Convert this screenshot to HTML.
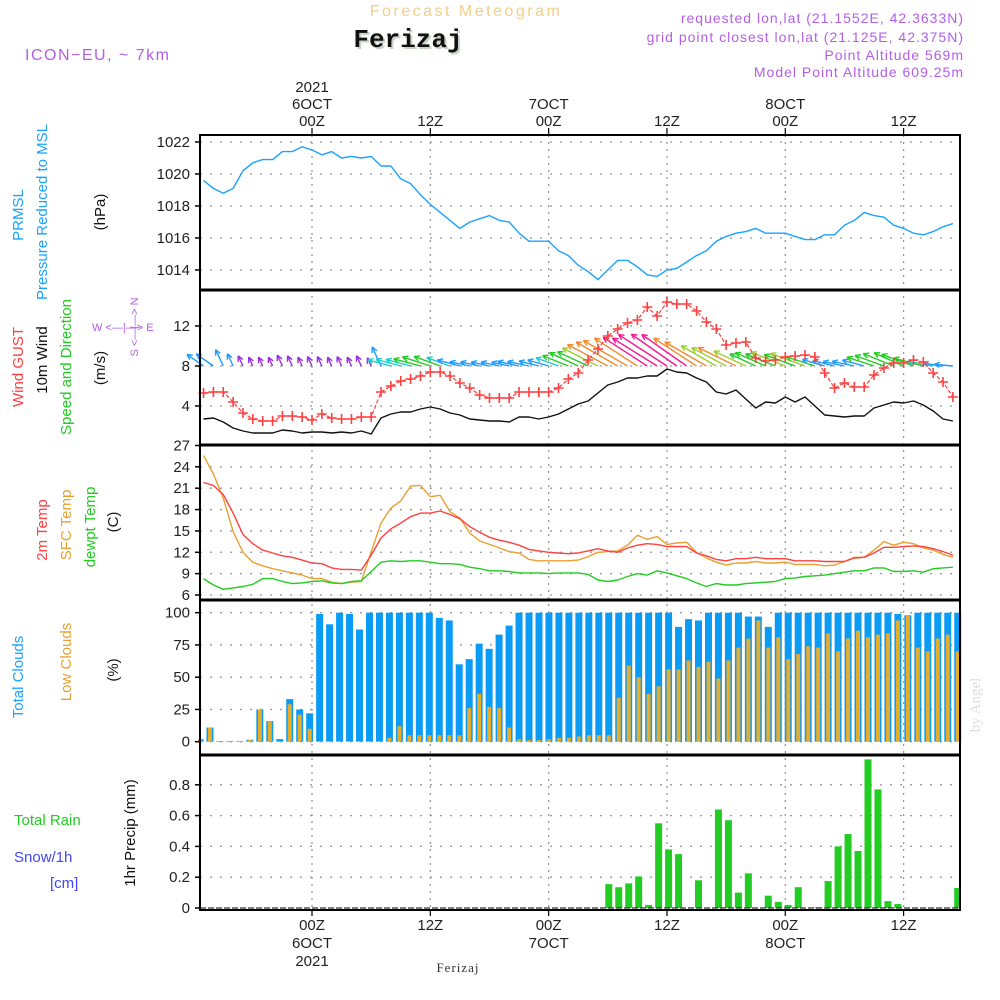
<!DOCTYPE html>
<html><head><meta charset="utf-8"><title>Forecast Meteogram Ferizaj</title>
<style>
html,body{margin:0;padding:0;background:#fff;}
svg{display:block;font-family:"Liberation Sans",sans-serif;}
</style></head>
<body>
<svg id="chart" width="1000" height="1000" viewBox="0 0 1000 1000" xmlns="http://www.w3.org/2000/svg">
<rect x="0" y="0" width="1000" height="1000" fill="#fff"/>
<text x="466" y="16" text-anchor="middle" font-size="16" fill="#f3cf8a" letter-spacing="2.5">Forecast Meteogram</text>
<text x="410" y="49" text-anchor="middle" font-size="26" font-weight="bold" font-family="Liberation Mono, monospace" fill="#c8d4c8">Ferizaj</text>
<text x="408" y="47" text-anchor="middle" font-size="26" font-weight="bold" font-family="Liberation Mono, monospace" fill="#111">Ferizaj</text>
<text x="25" y="60" font-size="16" fill="#b45ee8" letter-spacing="1.5">ICON−EU, ~ 7km</text>
<g font-size="14" fill="#b45ee8" text-anchor="end" letter-spacing="1">
<text x="964" y="23">requested lon,lat (21.1552E, 42.3633N)</text>
<text x="964" y="42">grid point closest lon,lat (21.125E, 42.375N)</text>
<text x="964" y="60">Point Altitude 569m</text>
<text x="964" y="77">Model Point Altitude 609.25m</text>
</g>
<g id="grid"></g>
<g id="marks"></g>
<g id="frames"></g>
<g id="labels" font-size="15" fill="#222"></g>
<text x="458" y="972" text-anchor="middle" font-size="13" font-family="Liberation Serif, serif" fill="#333" letter-spacing="1">Ferizaj</text>
<text transform="translate(980,705) rotate(-90)" text-anchor="middle" font-size="15" font-family="Liberation Serif, serif" fill="#ddd">by Angel</text>
</svg>
<script>
// ---- data ----
const timeTicks = [0, 12, 24, 36, 48, 60];
const timeTickLabels = ["00Z", "12Z", "00Z", "12Z", "00Z", "12Z"];
const dayLabels = ["6OCT", "", "7OCT", "", "8OCT", ""];
const pressure = [1019.6,1019.1,1018.8,1019.1,1020.2,1020.7,1020.9,1020.9,1021.4,1021.4,1021.7,1021.5,1021.2,1021.4,1021.0,1021.1,1021.0,1021.1,1020.5,1020.5,1019.7,1019.4,1018.7,1018.1,1017.6,1017.1,1016.6,1017.0,1017.2,1017.4,1017.1,1017.0,1016.3,1015.8,1015.8,1015.8,1015.2,1014.9,1014.3,1013.9,1013.4,1014.0,1014.6,1014.6,1014.2,1013.7,1013.6,1014.0,1014.1,1014.5,1014.9,1015.2,1015.8,1016.1,1016.3,1016.4,1016.6,1016.3,1016.3,1016.3,1016.1,1015.9,1015.9,1016.2,1016.2,1016.8,1017.1,1017.6,1017.4,1017.3,1016.8,1016.6,1016.3,1016.2,1016.4,1016.7,1016.9];
const pressureTicks = [1014, 1016, 1018, 1020, 1022];
const gust = [5.3,5.4,5.4,4.4,3.3,2.7,2.5,2.5,3.0,3.0,2.9,2.6,3.2,2.8,2.7,2.7,2.9,2.9,5.4,6.0,6.5,6.7,7.0,7.4,7.4,7.0,6.3,5.8,5.1,4.8,4.8,4.8,5.4,5.4,5.4,5.4,5.8,6.7,7.3,8.6,9.7,11.0,11.7,12.3,12.6,13.9,13.0,14.4,14.2,14.2,13.5,12.4,11.7,10.1,10.3,10.4,8.8,8.5,8.6,8.9,9.0,9.1,8.9,7.3,5.8,6.3,5.9,5.9,7.1,7.8,8.3,8.3,8.6,8.4,7.3,6.4,4.9];
const windSpeed = [2.7,2.8,2.4,1.8,1.5,1.3,1.3,1.3,1.6,1.5,1.3,1.4,1.4,1.3,1.4,1.3,1.5,1.2,2.8,3.2,3.4,3.4,3.7,3.9,3.7,3.3,3.1,2.7,2.6,2.5,2.5,2.4,2.9,2.9,2.7,2.9,3.2,3.7,4.2,4.5,5.3,6.1,6.4,6.8,6.8,7.0,7.0,7.7,7.4,7.3,6.8,6.4,5.4,5.2,5.6,4.7,3.8,4.4,4.3,4.9,4.4,4.9,4.0,3.1,3.0,2.9,3.0,3.0,3.8,4.1,4.4,4.3,4.5,4.1,3.5,2.7,2.5];
const windArrowAngle = [35,35,65,65,65,65,65,65,65,65,65,65,65,65,65,65,65,65,65,15,15,15,15,18,20,20,15,12,12,12,12,12,12,12,14,16,20,22,25,25,27,28,30,30,33,33,32,33,35,35,33,30,30,28,26,25,25,24,22,22,20,20,18,16,14,12,12,15,18,20,22,24,20,15,10,8,5];
const windTicks = [4, 8, 12];
const temp2m = [21.8,21.4,20.1,17.5,14.5,13.2,12.3,11.9,11.5,11.3,10.9,10.5,10.4,9.8,9.6,9.6,9.5,11.6,14.0,15.3,16.1,17.0,17.5,17.5,17.8,17.3,16.7,15.6,14.8,14.1,13.7,13.4,13.0,12.4,12.2,12.0,11.9,11.8,11.9,12.2,12.5,12.2,12.0,12.6,13.0,13.2,13.1,12.8,12.8,12.8,11.9,11.5,11.0,10.8,11.1,11.1,11.3,11.1,11.1,11.1,10.8,10.8,10.8,10.7,10.7,10.7,11.2,11.3,11.9,12.7,12.7,12.8,12.9,12.8,12.5,12.1,11.6];
const tempSfc = [25.6,23.0,19.6,14.9,12.0,10.6,10.1,9.7,9.4,9.1,8.8,8.3,8.3,7.8,7.6,7.8,7.9,12.1,16.1,18.2,19.2,21.3,21.4,19.8,20.0,17.7,16.8,14.7,13.6,13.1,12.6,12.1,11.9,11.0,10.8,10.8,10.8,10.8,10.9,11.4,12.0,12.1,12.2,13.0,14.4,13.8,14.2,13.1,13.3,13.4,12.0,11.2,10.6,10.2,10.5,10.5,10.7,10.5,10.5,10.6,10.3,10.3,10.3,10.1,10.2,10.7,11.3,11.3,12.3,13.5,13.0,13.4,13.2,12.6,12.3,11.7,11.3];
const dewpoint = [8.3,7.4,6.8,7.0,7.2,7.5,8.3,8.3,7.9,7.6,7.7,7.9,8.0,7.7,7.6,7.9,8.0,9.3,10.6,10.8,10.7,10.8,10.8,10.6,10.4,10.4,10.3,9.9,9.7,9.4,9.4,9.3,9.1,9.1,9.1,9.0,9.1,9.1,9.1,8.9,8.1,7.9,8.1,8.6,9.0,8.8,9.4,9.1,8.7,8.3,7.7,7.2,7.6,7.4,7.4,7.6,7.7,7.8,7.9,8.3,8.4,8.6,8.7,8.8,9.0,9.2,9.4,9.4,9.8,9.8,9.3,9.3,9.4,9.2,9.7,9.8,9.9];
const tempTicks = [6, 9, 12, 15, 18, 21, 24, 27];
const totalClouds = [2,11,0.5,0.5,0.5,1.5,25,16,2,33,25,22,99,91,100,99,87,100,100,100,100,100,100,100,96,94,60,64,76,72,83,90,100,100,100,100,100,100,100,100,100,100,100,100,100,100,100,100,89,95,94,100,100,100,100,97,97,89,100,100,100,100,100,100,100,100,100,100,100,100,99,98,100,100,100,100,100];
const lowClouds = [2,11,0.5,0.5,0.5,1.3,25,16,0.5,29,21,10,0.5,0.5,0.5,0.5,0.5,0.5,0.5,3,12,5,5,5,5,5,5,26,37,27,26,11,2,1.3,1.3,2,3,3,4,5,5,5,34,59,50,37,43,56,56,63,58,62,49,63,73,80,94,73,81,64,68,74,73,84,70,80,86,81,83,84,94,98,73,70,80,83,70];
const cloudTicks = [0, 25, 50, 75, 100];
const precip = [0,0,0,0,0,0,0,0,0,0,0,0,0,0,0,0,0,0,0,0,0,0,0,0,0,0,0,0,0,0,0,0,0,0,0,0,0,0,0,0,0,0.155,0.135,0.16,0.205,0.02,0.55,0.38,0.35,0,0.18,0,0.64,0.57,0.10,0.225,0,0.08,0.04,0.02,0.135,0,0.005,0.175,0.40,0.48,0.37,0.965,0.77,0.045,0.026,0,0,0,0,0,0.13];
const precipTicks = [0, 0.2, 0.4, 0.6, 0.8];
const precipTickLabels = ["0", "0.2", "0.4", "0.6", "0.8"];

// ---- scales ----
const X0 = 200, X1 = 960;
const FIRST_HOUR = -11;
function xH(h){ return 312 + h * 9.86; }
function xIdx(i){ return xH(FIRST_HOUR + i); }
function xBar(i){ return 200 + i * 9.97; }
function yP(p){ return 142 + (1022 - p) * 16; }
function yW(v){ return 446 - v * 10; }
function yT(t){ return 595 - (t - 6) * 7.12; }
function yC(c){ return 741.7 - c * 1.29; }
function yR(r){ return 908 - r * 154; }

const NS = "http://www.w3.org/2000/svg";
function mk(parent, tag, attrs){
  const e = document.createElementNS(NS, tag);
  for (const k in attrs) e.setAttribute(k, attrs[k]);
  parent.appendChild(e);
  return e;
}
const grid = document.getElementById('grid');
const marks = document.getElementById('marks');
const frames = document.getElementById('frames');
const labels = document.getElementById('labels');

const panels = [[135,290],[290,445],[445,600],[600,755],[755,910]];

timeTicks.forEach(h => {
  const x = xH(h);
  const l = mk(grid, 'line', {x1:x, x2:x, y1:135, y2:910, stroke:'#999', 'stroke-width':1.3, 'stroke-dasharray':'2,5'});
  
  
});
function hgrid(y, name){
  const l = mk(grid, 'line', {x1:X0, x2:X1, y1:y, y2:y, stroke:'#999', 'stroke-width':1.3, 'stroke-dasharray':'2,8'});
  
  
}
function ytick(y, txt, name){
  const t = mk(labels, 'text', {x:190, y:y+5, 'text-anchor':'end'});
  t.textContent = txt;
  
  
  mk(frames, 'line', {x1:X0-5, x2:X0, y1:y, y2:y, stroke:'#000', 'stroke-width':1.5});
}
pressureTicks.forEach(p => { hgrid(yP(p), 'pressure-grid-line'); ytick(yP(p), String(p), 'pressure-tick-label'); });
windTicks.forEach(v => { hgrid(yW(v), 'wind-grid-line'); ytick(yW(v), String(v), 'wind-tick-label'); });
tempTicks.forEach(t => { hgrid(yT(t), 'temp-grid-line'); ytick(yT(t), String(t), 'temp-tick-label'); });
cloudTicks.forEach(c => { hgrid(yC(c), 'cloud-grid-line'); ytick(yC(c), String(c), 'cloud-tick-label'); });
precipTicks.forEach((r, i) => { if (r > 0) hgrid(yR(r), 'precip-grid-line'); ytick(yR(r), precipTickLabels[i], 'precip-tick-label'); });

function poly(arr, yf, color, name, w, dash){
  const pts = arr.map((v, i) => xIdx(i).toFixed(1) + ',' + yf(v).toFixed(1)).join(' ');
  const a = {points:pts, fill:'none', stroke:color, 'stroke-width':w || 1.4, 'stroke-linejoin':'round'};
  if (dash) a['stroke-dasharray'] = dash;
  const p = mk(marks, 'polyline', a);
  
  
  return p;
}

poly(pressure, yP, '#1aa3ff', 'pressure-line');

function windColor(s){
  if (s < 1.8) return '#9b2fe0';
  if (s < 3.2) return '#1e9bff';
  if (s < 3.6) return '#1ccfcf';
  if (s < 4.6) return '#22cc22';
  if (s < 5.6) return '#9ad030';
  if (s < 7.0) return '#f08c30';
  return '#ff1493';
}
windSpeed.forEach((s, i) => {
  const x = xIdx(i), y = yW(8);
  const a = windArrowAngle[i] * Math.PI / 180;
  const len = s * 7.5;
  const x2 = x - len * Math.cos(a), y2 = y - len * Math.sin(a);
  const c = windColor(s);
  const g = mk(marks, 'g', {stroke:c, 'stroke-width':1.4, fill:'none'});
  
  
  mk(g, 'line', {x1:x, y1:y, x2:x2, y2:y2});
  const hl = 6, ha = 0.45;
  const b = Math.atan2(y - y2, x - x2);
  mk(g, 'line', {x1:x2, y1:y2, x2:x2 + hl*Math.cos(b+ha), y2:y2 + hl*Math.sin(b+ha)});
  mk(g, 'line', {x1:x2, y1:y2, x2:x2 + hl*Math.cos(b-ha), y2:y2 + hl*Math.sin(b-ha)});
});

poly(windSpeed, yW, '#111', 'wind-speed-line');
poly(gust, yW, '#ff4040', 'gust-line', 1.2, '4,2');
gust.forEach((v, i) => {
  const x = xIdx(i), y = yW(v);
  const m = mk(marks, 'path', {d:`M${x-5},${y}H${x+5}M${x},${y-5}V${y+5}`, stroke:'#ff4040', 'stroke-width':1.6});
  
  
});

poly(tempSfc, yT, '#eaa030', 'sfc-temp-line');
poly(temp2m, yT, '#ff4040', 'temp-2m-line');
poly(dewpoint, yT, '#22cc22', 'dewpoint-line');

totalClouds.forEach((c, i) => {
  const x = xBar(i), y = yC(c);
  const r = mk(marks, 'rect', {x:Math.max(x-3.5, X0), y:y, width:x-3.5 < X0 ? 3.5 + x - X0 : 7, height:Math.max(yC(0)-y, 0.5), fill:'#0a9cf5'});
  
  
});
lowClouds.forEach((c, i) => {
  const x = xBar(i), y = yC(c);
  const r = mk(marks, 'rect', {x:x-2, y:y, width:4, height:Math.max(yC(0)-y, 0.5), fill:'#e6ac2a'});
  
  
});

precip.forEach((r, i) => {
  if (r <= 0) return;
  const x = xBar(i), y = yR(r);
  const b = mk(marks, 'rect', {x:x-3.5, y:y, width:Math.min(7, X1 - (x-3.5)), height:yR(0)-y, fill:'#22cc22'});
  
  
});
const zl = mk(marks, 'line', {x1:X0, x2:X1, y1:yR(0), y2:yR(0), stroke:'#333', 'stroke-width':1.2, 'stroke-dasharray':'6,2'});



panels.forEach(([a, b], i) => {
  const r = mk(frames, 'rect', {x:X0, y:a, width:X1-X0, height:b-a, fill:'none', stroke:'#000', 'stroke-width':2});
  
  
});
[290, 445, 600, 755].forEach(y => mk(frames, 'line', {x1:X0, x2:X1, y1:y, y2:y, stroke:'#000', 'stroke-width':3}));

timeTicks.forEach((h, i) => {
  const x = xH(h);
  mk(frames, 'line', {x1:x, x2:x, y1:128, y2:135, stroke:'#000', 'stroke-width':1.2});
  mk(frames, 'line', {x1:x, x2:x, y1:910, y2:916, stroke:'#000', 'stroke-width':1.2});
  const t = mk(labels, 'text', {x:x, y:126, 'text-anchor':'middle'});
  t.textContent = timeTickLabels[i];
  
  
  const b = mk(labels, 'text', {x:x, y:930, 'text-anchor':'middle'});
  b.textContent = timeTickLabels[i];
  
  
  if (dayLabels[i]) {
    const d = mk(labels, 'text', {x:x, y:109, 'text-anchor':'middle'});
    d.textContent = dayLabels[i];
    
    
    const d2 = mk(labels, 'text', {x:x, y:948, 'text-anchor':'middle'});
    d2.textContent = dayLabels[i];
    
    
  }
});
const yr1 = mk(labels, 'text', {x:xH(0), y:92, 'text-anchor':'middle'});
yr1.textContent = '2021';


const yr2 = mk(labels, 'text', {x:xH(0), y:966, 'text-anchor':'middle'});
yr2.textContent = '2021';



function vlabel(x, y, txt, color, name){
  const t = mk(labels, 'text', {transform:`translate(${x},${y}) rotate(-90)`, 'text-anchor':'middle', fill:color});
  t.textContent = txt;
  
  
}
vlabel(23, 215, 'PRMSL', '#1aa3ff', 'prmsl-label');
vlabel(47, 212, 'Pressure Reduced to MSL', '#1aa3ff', 'pressure-label');
vlabel(105, 212, '(hPa)', '#111', 'pressure-unit');
vlabel(23, 367, 'Wind GUST', '#ff4040', 'gust-label');
vlabel(47, 360, '10m Wind', '#111', 'wind-label');
vlabel(71, 367, 'Speed and Direction', '#22cc22', 'wind-direction-label');
vlabel(105, 368, '(m/s)', '#111', 'wind-unit');
vlabel(47, 530, '2m Temp', '#ff4040', 'temp-2m-label');
vlabel(71, 525, 'SFC Temp', '#eaa030', 'sfc-temp-label');
vlabel(95, 527, 'dewpt Temp', '#22cc22', 'dewpoint-label');
vlabel(118, 522, '(C)', '#111', 'temp-unit');
vlabel(23, 677, 'Total Clouds', '#1aa3ff', 'total-clouds-label');
vlabel(71, 662, 'Low Clouds', '#eaa030', 'low-clouds-label');
vlabel(118, 670, '(%)', '#111', 'cloud-unit');
vlabel(135, 833, '1hr Precip (mm)', '#111', 'precip-label');

function hlabel(x, y, txt, color, name, size){
  const t = mk(labels, 'text', {x:x, y:y, fill:color});
  if (size) t.setAttribute('font-size', size);
  t.textContent = txt;
  
  
}
hlabel(14, 825, 'Total   Rain', '#22cc22', 'rain-label');
hlabel(14, 862, 'Snow/1h', '#4444ff', 'snow-label');
hlabel(50, 888, '[cm]', '#4444ff', 'snow-unit');
hlabel(92, 331, 'W <—|—> E', '#b45ee8', 'compass-we', 11);
const cn = mk(labels, 'text', {transform:'translate(138,327) rotate(-90)', fill:'#b45ee8', 'font-size':11, 'text-anchor':'middle'});
cn.textContent = 'S <—|—> N';


</script>
</body></html>
